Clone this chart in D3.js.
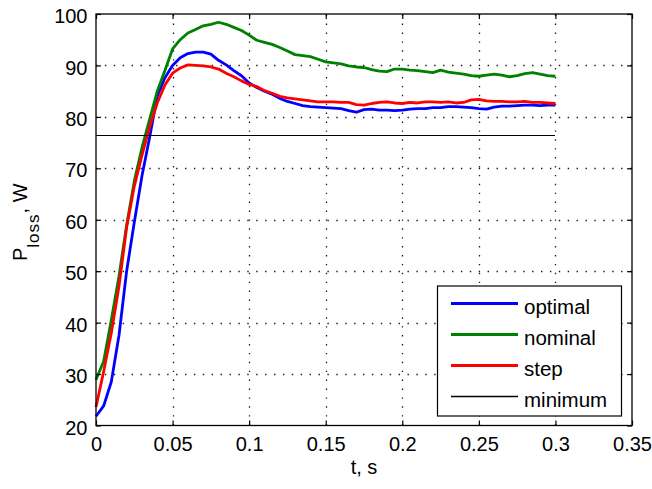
<!DOCTYPE html>
<html>
<head>
<meta charset="utf-8">
<script src="https://cdn.jsdelivr.net/npm/d3@7/dist/d3.min.js"></script>
<style>
  html, body { margin: 0; padding: 0; background: #fff; }
  svg { display: block; }
  text { font-family: "Liberation Sans", Arial, Helvetica, sans-serif; fill: #000; }
</style>
</head>
<body>
<svg id="chart" width="652" height="489"></svg>
<script>
// Sample times (s)
const timeS = [
  0, 0.005, 0.010, 0.015, 0.020, 0.025, 0.030, 0.035, 0.040, 0.045,
  0.050, 0.055, 0.060, 0.065, 0.070, 0.075, 0.080, 0.085, 0.090, 0.095,
  0.100, 0.105, 0.110, 0.115, 0.120, 0.125, 0.130, 0.135, 0.140, 0.145,
  0.150, 0.155, 0.160, 0.165, 0.170, 0.175, 0.180, 0.185, 0.190, 0.195,
  0.200, 0.205, 0.210, 0.215, 0.220, 0.225, 0.230, 0.235, 0.240, 0.245,
  0.250, 0.255, 0.260, 0.265, 0.270, 0.275, 0.280, 0.285, 0.290, 0.295,
  0.300
];

// Power loss, W
const optimalLoss = [
  21.8, 23.8, 28.5, 37.5, 50.0, 59.5, 68.5, 76.0, 84.0, 87.6,
  90.0, 91.5, 92.3, 92.6, 92.6, 92.2, 91.0, 90.1, 89.0, 88.0,
  86.6, 85.7, 85.0, 84.4, 83.6, 83.0, 82.6, 82.2, 82.0, 81.9,
  81.8, 81.7, 81.6, 81.2, 80.9, 81.4, 81.5, 81.3, 81.3, 81.2,
  81.3, 81.5, 81.6, 81.6, 81.8, 81.8, 82.0, 82.0, 81.9, 81.8,
  81.6, 81.5, 81.9, 82.1, 82.1, 82.2, 82.3, 82.3, 82.2, 82.3,
  82.3
];
const nominalLoss = [
  28.9, 32.5, 40.5, 49.0, 59.0, 67.5, 74.0, 79.5, 85.0, 89.0,
  93.2, 95.0, 96.3, 97.0, 97.7, 98.0, 98.4, 98.0, 97.4, 96.8,
  95.9, 94.9, 94.5, 94.1, 93.5, 92.8, 92.1, 91.9, 91.7, 91.2,
  90.7, 90.5, 90.3, 89.9, 89.7, 89.6, 89.2, 88.9, 88.8, 89.3,
  89.3, 89.1, 89.0, 88.8, 88.6, 89.1, 88.7, 88.5, 88.3, 88.0,
  87.9, 88.1, 88.3, 88.1, 87.8, 88.0, 88.4, 88.6, 88.3, 88.0,
  87.9
];
const stepLoss = [
  23.6, 30.5, 38.0, 47.0, 58.5, 66.5, 72.5, 78.0, 82.7, 86.2,
  88.5, 89.5, 90.1, 90.0, 89.9, 89.7, 89.3, 88.5, 87.8, 87.0,
  86.3, 85.9, 85.1, 84.6, 84.0, 83.7, 83.5, 83.3, 83.1, 82.9,
  82.9, 82.9, 82.8, 82.8, 82.4, 82.3, 82.6, 82.8, 82.9, 82.7,
  82.6, 82.8, 82.7, 82.9, 82.9, 82.8, 82.9, 82.7, 82.8, 83.3,
  83.4, 83.1, 83.0, 83.0, 82.9, 82.9, 83.0, 82.8, 82.8, 82.7,
  82.6
];
const minimumT = [0, 0.3];
const minimumLoss = [76.3, 76.3];

const seriesNames = ["optimal", "nominal", "step", "minimum"];
const seriesColors = ["#0000ff", "#008000", "#ff0000", "#000000"];
const seriesWidths = [2.8, 2.8, 2.8, 1];

const xTicks = [0, 0.05, 0.1, 0.15, 0.2, 0.25, 0.3, 0.35];
const yTicks = [20, 30, 40, 50, 60, 70, 80, 90, 100];

const svg = d3.select("#chart");
const plotL = 96, plotR = 632, plotT = 14, plotB = 425.5;

const x = d3.scaleLinear().domain([0, 0.35]).range([plotL, plotR]);
const y = d3.scaleLinear().domain([20, 100]).range([plotB, plotT]);

// dotted grid
const grid = svg.append("g").attr("stroke", "#1a1a1a").attr("stroke-width", 1.3)
  .attr("stroke-dasharray", "1.4 7.5");
grid.selectAll("line.gx").data(xTicks.filter(d => d > 0 && d < 0.35)).join("line")
  .attr("class", "gx")
  .attr("x1", d => Math.round(x(d)) + 0.5).attr("x2", d => Math.round(x(d)) + 0.5)
  .attr("y1", plotB).attr("y2", plotT);
grid.selectAll("line.gy").data(yTicks.filter(d => d > 20 && d < 100)).join("line")
  .attr("class", "gy")
  .attr("y1", d => Math.round(y(d)) + 0.5).attr("y2", d => Math.round(y(d)) + 0.5)
  .attr("x1", plotL).attr("x2", plotR);

// curves
const series = [
  { t: timeS, v: optimalLoss },
  { t: timeS, v: nominalLoss },
  { t: timeS, v: stepLoss },
  { t: minimumT, v: minimumLoss }
];
const line = d3.line().x(d => x(d[0])).y(d => y(d[1]));
series.forEach((s, i) => {
  svg.append("path")
    .datum(s.t.map((t, k) => [t, s.v[k]]))
    .attr("fill", "none")
    .attr("stroke", seriesColors[i])
    .attr("stroke-width", seriesWidths[i])
    .attr("stroke-linejoin", "round")
    .attr("shape-rendering", seriesWidths[i] === 1 ? "crispEdges" : null)
    .attr("d", line);
});

// axes with inward ticks
const fontSize = 20;
const gx = svg.append("g").attr("transform", `translate(0,${plotB})`)
  .call(d3.axisBottom(x).tickValues(xTicks).tickFormat(d => String(+d.toFixed(2)))
    .tickSizeInner(-5).tickSizeOuter(0).tickPadding(11));
const gy = svg.append("g").attr("transform", `translate(${plotL},0)`)
  .call(d3.axisLeft(y).tickValues(yTicks).tickSizeInner(-5).tickSizeOuter(0).tickPadding(8.5));
const gt = svg.append("g").attr("transform", `translate(0,${plotT})`)
  .call(d3.axisTop(x).tickValues(xTicks).tickFormat("").tickSizeInner(-5).tickSizeOuter(0));
const gr = svg.append("g").attr("transform", `translate(${plotR},0)`)
  .call(d3.axisRight(y).tickValues(yTicks).tickFormat("").tickSizeInner(-5).tickSizeOuter(0));
[gx, gy, gt, gr].forEach(g => {
  g.attr("font-family", null).attr("font-size", null);
  g.select(".domain").remove();
  g.selectAll(".tick line").attr("stroke", "#000").attr("stroke-width", 1.2);
  g.selectAll("text").attr("font-size", fontSize).attr("fill", "#000");
});
gy.selectAll("text").attr("dy", "0.43em");

// axes box
svg.append("rect").attr("x", plotL).attr("y", plotT)
  .attr("width", plotR - plotL).attr("height", plotB - plotT)
  .attr("fill", "none").attr("stroke", "#000").attr("stroke-width", 1.3);

// axis labels
svg.append("text").attr("x", (plotL + plotR) / 2).attr("y", 474)
  .attr("text-anchor", "middle").attr("font-size", fontSize).text("t, s");

const yl = svg.append("text").attr("transform", "translate(27,261) rotate(-90)")
  .attr("font-size", fontSize);
yl.append("tspan").text("P");
yl.append("tspan").attr("dy", 12).attr("font-size", 17).attr("letter-spacing", 1).text("loss");
yl.append("tspan").attr("dy", -12).text(", W");

// legend
const lg = svg.append("g");
lg.append("rect").attr("x", 437.5).attr("y", 286).attr("width", 184).attr("height", 130)
  .attr("fill", "#fff").attr("stroke", "#000").attr("stroke-width", 1.2);
const legendY = d3.scalePoint().domain(seriesNames).range([303.5, 396.5]);
seriesNames.forEach((name, i) => {
  lg.append("line").attr("x1", 451).attr("x2", 518)
    .attr("y1", legendY(name)).attr("y2", legendY(name))
    .attr("stroke", seriesColors[i]).attr("stroke-width", seriesWidths[i] === 1 ? 1.3 : 2.8);
  lg.append("text").attr("x", 524).attr("y", legendY(name) + 10)
    .attr("font-size", 20.5).text(name);
});
</script>
</body>
</html>
